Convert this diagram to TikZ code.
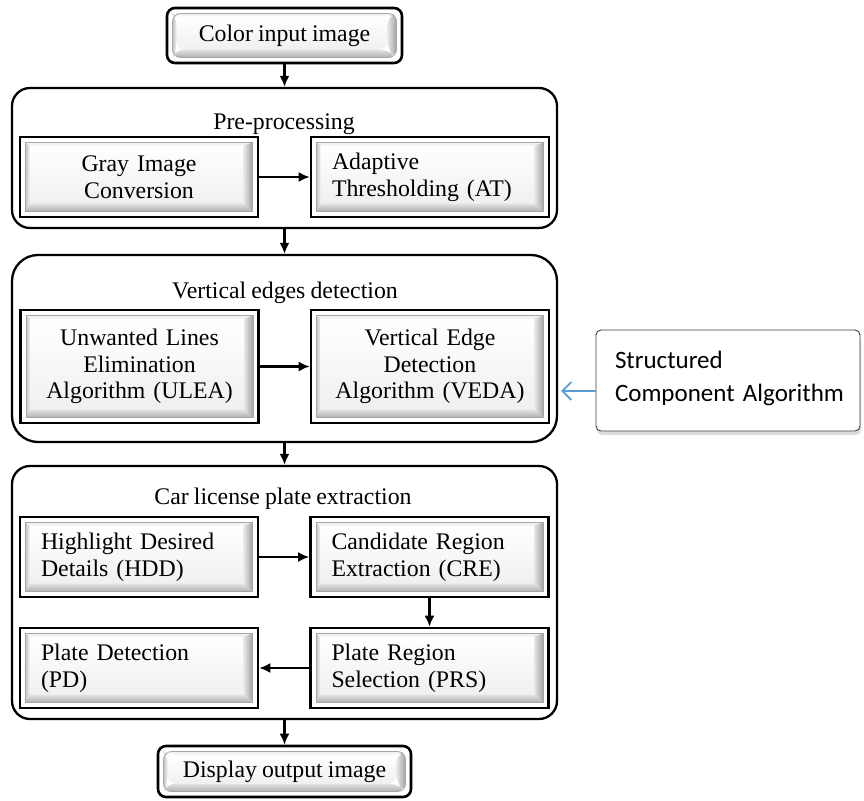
\documentclass[tikz,border=0pt]{standalone}
\usepackage{fontspec}
\setmainfont[WordSpace=0.85]{Liberation Serif}
\newfontfamily\calibfont{Carlito}
\usetikzlibrary{calc,arrows.meta,shadows}

% raised "button" face drawn inside a frame
\newcommand\bevelbutton{%
  \coordinate (oSW) at ($(path picture bounding box.south west)+(5.5pt,5.5pt)$);
  \coordinate (oNE) at ($(path picture bounding box.north east)+(-5.5pt,-5.5pt)$);
  \coordinate (iSW) at ($(oSW)+(4pt,8pt)$);
  \coordinate (iNE) at ($(oNE)+(-9pt,-3pt)$);
  \shade[top color=white, bottom color=gray!12] (iSW) rectangle (iNE);
  \shade[left color=gray!45, right color=gray!12]
    (oSW) -- (oSW |- oNE) -- (iSW |- iNE) -- (iSW) -- cycle;
  \fill[gray!10] (oSW |- oNE) -- (oNE) -- (iNE) -- (iSW |- iNE) -- cycle;
  \shade[left color=gray!18, right color=gray!72]
    (oNE) -- (oSW -| oNE) -- (iSW -| iNE) -- (iNE) -- cycle;
  \shade[top color=gray!22, bottom color=gray!62]
    (oSW) -- (oSW -| oNE) -- (iSW -| iNE) -- (iSW) -- cycle;
  \draw[gray!70, line width=0.8pt] (oSW) rectangle (oNE);
}

\tikzset{
  txt/.style={font=\fontsize{23.8}{26.7}\selectfont},
  stage/.style={txt, draw, line width=2.6pt, rectangle, inner sep=0pt,
    minimum width=238pt, minimum height=80pt, path picture={\bevelbutton}},
  stagec/.style={stage, align=center, text width=220pt},
  stagel/.style={stage, align=left, text width=196pt},
  endbox/.style={txt, draw, line width=2.6pt, rounded corners=8pt, inner sep=0pt,
    align=center, path picture={\bevelbutton}},
  container/.style={draw, line width=2.3pt, inner sep=0pt},
  title/.style={txt, inner sep=0pt},
  arr/.style={line width=2.1pt, -{Latex[length=11pt,width=10pt]}},
  bluearr/.style={draw={rgb,255:red,91;green,155;blue,213}, line width=1.8pt,
    -{Straight Barb[length=9pt,width=18pt]}},
  note/.style={draw=black!75, line width=0.9pt, fill=white,
    rounded corners=5pt, inner sep=0pt, align=left,
    font=\calibfont\fontsize{25}{33}\selectfont,
    drop shadow={shadow xshift=1pt, shadow yshift=-4pt, fill=gray!55}}
}

\begin{document}
\begin{tikzpicture}[x=1pt, y=-1pt]
\useasboundingbox (0,0) rectangle (864,800);

% stage containers
\node[container, rounded corners=18pt, minimum width=545pt, minimum height=140pt]
  (pre) at (284.5,158) {};
\node[container, rounded corners=26pt, minimum width=545pt, minimum height=187pt]
  (ved) at (284.5,348.5) {};
\node[container, rounded corners=18pt, minimum width=545pt, minimum height=253pt]
  (car) at (284.5,592.5) {};

\node[title] (preT) at (284,124) {Pre-processing};
\node[title] (vedT) at (285,293) {Vertical edges detection};
\node[title] (carT) at (283,499) {Car license plate extraction};

% input and output
\node[endbox, minimum width=235pt, minimum height=55pt] (in) at (284.5,35.5)
  {Color input image};
\node[endbox, minimum width=253pt, minimum height=51pt] (out) at (284.5,771.5)
  {Display output image};

% pre-processing
\node[stagec] (gray) at (139,177) {Gray Image\\Conversion};
\node[stagel] (at) at (430,177) {Adaptive\\Thresholding (AT)};

% vertical edges detection
\node[stagec, minimum height=113pt] (ulea) at (139.5,366.5)
  {Unwanted Lines\\Elimination\\Algorithm (ULEA)};
\node[stagec, minimum height=113pt] (veda) at (430,366.5)
  {Vertical Edge\\Detection\\Algorithm (VEDA)};

% plate extraction
\node[stagel] (hdd) at (139,557) {Highlight Desired\\Details (HDD)};
\node[stagel] (cre) at (429.5,557) {Candidate Region\\Extraction (CRE)};
\node[stagel] (pd) at (139,668) {Plate Detection\\(PD)};
\node[stagel] (prs) at (429.5,668) {Plate Region\\Selection (PRS)};

% side note
\node[note, minimum width=264pt, minimum height=101pt, text width=226pt]
  (sca) at (728,380.5) {Structured\\\mbox{Component Algorithm}\vspace*{4pt}};

% flow
\draw[arr] (in.south) -- (in.south |- pre.north);
\draw[arr] (pre.south) -- (ved.north);
\draw[arr] (ved.south) -- (car.north);
\draw[arr] (car.south) -- (car.south |- out.north);
\draw[arr] (gray) -- (at);
\draw[arr] (ulea) -- (veda);
\draw[arr] (hdd) -- (cre);
\draw[arr] (cre) -- (prs);
\draw[arr] (prs) -- (pd);
\draw[bluearr, shorten >=3pt] ([yshift=-10.5pt]sca.west) -- ([yshift=-10.5pt]sca.west -| ved.east);
\end{tikzpicture}
\end{document}
